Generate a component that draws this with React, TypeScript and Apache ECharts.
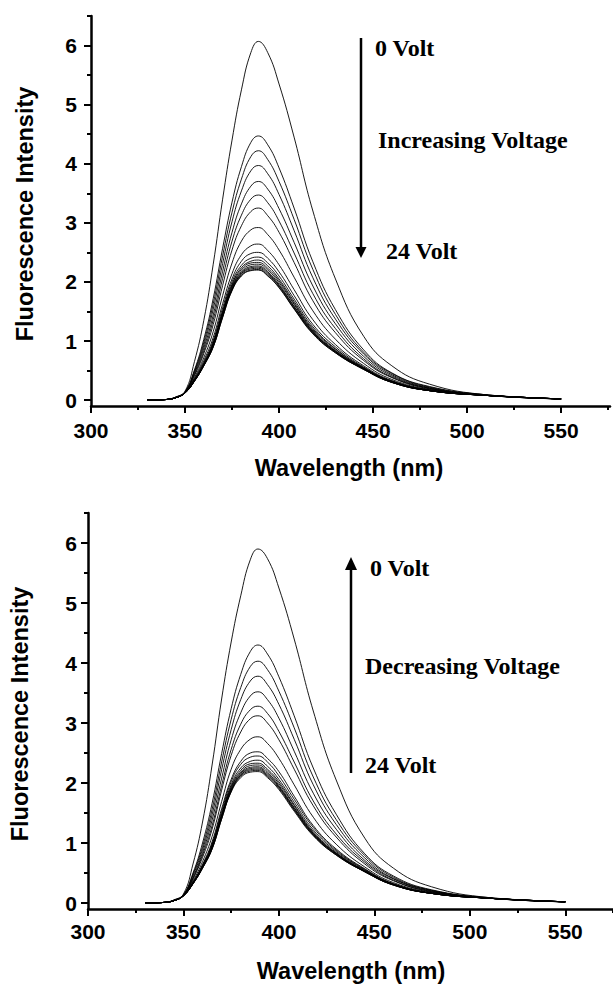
import React, { useEffect, useRef } from "react";
import * as echarts from "echarts";

// Wavelength grid (nm) shared by every spectrum
const wavelengths = [330, 340, 345, 350, 355, 360, 365, 370, 375, 380, 385, 389, 394, 400, 408, 418, 430, 445, 460, 480, 510, 550];

// Top panel: increasing voltage (0 V -> 24 V)
const top00 = [0, 0.01, 0.05, 0.15, 0.65, 1.35, 2.30, 3.40, 4.40, 5.25, 5.88, 6.07, 5.88, 5.35, 4.45, 3.20, 2.05, 1.08, 0.58, 0.27, 0.09, 0.02];
const top01 = [0, 0.01, 0.05, 0.14, 0.51, 1.03, 1.72, 2.57, 3.35, 3.95, 4.36, 4.47, 4.32, 3.93, 3.25, 2.34, 1.53, 0.85, 0.46, 0.23, 0.09, 0.02];
const top02 = [0, 0.01, 0.05, 0.14, 0.49, 0.98, 1.63, 2.44, 3.18, 3.74, 4.12, 4.22, 4.07, 3.70, 3.06, 2.21, 1.45, 0.81, 0.45, 0.22, 0.09, 0.02];
const top03 = [0, 0.01, 0.04, 0.13, 0.47, 0.93, 1.54, 2.31, 3.02, 3.54, 3.88, 3.97, 3.83, 3.48, 2.87, 2.07, 1.37, 0.78, 0.43, 0.21, 0.08, 0.02];
const top04 = [0, 0.01, 0.04, 0.13, 0.45, 0.88, 1.44, 2.18, 2.84, 3.32, 3.62, 3.70, 3.57, 3.24, 2.67, 1.93, 1.29, 0.74, 0.41, 0.20, 0.08, 0.02];
const top05 = [0, 0.01, 0.04, 0.13, 0.43, 0.83, 1.36, 2.06, 2.69, 3.13, 3.40, 3.47, 3.34, 3.03, 2.49, 1.80, 1.21, 0.70, 0.39, 0.20, 0.08, 0.02];
const top06 = [0, 0.01, 0.04, 0.13, 0.41, 0.79, 1.28, 1.94, 2.54, 2.95, 3.19, 3.25, 3.12, 2.84, 2.33, 1.68, 1.14, 0.67, 0.38, 0.19, 0.08, 0.02];
const top07 = [0, 0.01, 0.04, 0.13, 0.38, 0.72, 1.16, 1.77, 2.32, 2.69, 2.88, 2.92, 2.80, 2.54, 2.08, 1.51, 1.03, 0.62, 0.35, 0.18, 0.08, 0.02];
const top08 = [0, 0.01, 0.04, 0.12, 0.36, 0.67, 1.06, 1.63, 2.14, 2.46, 2.61, 2.64, 2.53, 2.29, 1.87, 1.36, 0.94, 0.58, 0.33, 0.17, 0.08, 0.02];
const top09 = [0, 0.01, 0.04, 0.12, 0.35, 0.64, 1.01, 1.56, 2.05, 2.35, 2.48, 2.50, 2.40, 2.17, 1.77, 1.28, 0.90, 0.56, 0.32, 0.17, 0.08, 0.02];
const top10 = [0, 0.01, 0.04, 0.12, 0.34, 0.62, 0.98, 1.51, 2.00, 2.28, 2.40, 2.42, 2.32, 2.10, 1.71, 1.24, 0.87, 0.55, 0.32, 0.17, 0.08, 0.02];
const top11 = [0, 0.01, 0.04, 0.12, 0.33, 0.61, 0.96, 1.49, 1.96, 2.24, 2.35, 2.37, 2.27, 2.05, 1.67, 1.21, 0.86, 0.54, 0.31, 0.16, 0.08, 0.02];
const top12 = [0, 0.01, 0.04, 0.12, 0.33, 0.61, 0.95, 1.47, 1.94, 2.21, 2.32, 2.33, 2.23, 2.02, 1.64, 1.19, 0.84, 0.54, 0.31, 0.16, 0.08, 0.02];
const top13 = [0, 0.01, 0.04, 0.12, 0.33, 0.60, 0.94, 1.45, 1.92, 2.18, 2.29, 2.30, 2.20, 1.99, 1.62, 1.17, 0.83, 0.53, 0.31, 0.16, 0.08, 0.02];
const top14 = [0, 0.01, 0.04, 0.12, 0.33, 0.59, 0.93, 1.44, 1.90, 2.16, 2.26, 2.27, 2.17, 1.96, 1.59, 1.16, 0.82, 0.53, 0.31, 0.16, 0.08, 0.02];
const top15 = [0, 0.01, 0.04, 0.12, 0.32, 0.59, 0.92, 1.43, 1.88, 2.14, 2.24, 2.25, 2.15, 1.94, 1.58, 1.15, 0.82, 0.53, 0.30, 0.16, 0.08, 0.02];
const top16 = [0, 0.01, 0.04, 0.12, 0.32, 0.59, 0.91, 1.42, 1.87, 2.13, 2.22, 2.23, 2.13, 1.93, 1.56, 1.14, 0.81, 0.52, 0.30, 0.16, 0.08, 0.02];
const top17 = [0, 0.01, 0.04, 0.12, 0.32, 0.58, 0.90, 1.40, 1.86, 2.11, 2.20, 2.21, 2.11, 1.91, 1.55, 1.13, 0.80, 0.52, 0.30, 0.16, 0.08, 0.02];
const top18 = [0, 0.01, 0.04, 0.12, 0.32, 0.58, 0.90, 1.40, 1.85, 2.10, 2.19, 2.20, 2.10, 1.90, 1.54, 1.12, 0.80, 0.52, 0.30, 0.16, 0.08, 0.02];

// Bottom panel: decreasing voltage (24 V -> 0 V)
const bot00 = [0, 0.01, 0.05, 0.15, 0.65, 1.35, 2.30, 3.40, 4.35, 5.12, 5.72, 5.90, 5.74, 5.25, 4.40, 3.20, 2.05, 1.08, 0.58, 0.27, 0.09, 0.02];
const bot01 = [0, 0.01, 0.05, 0.14, 0.50, 1.00, 1.66, 2.49, 3.24, 3.81, 4.19, 4.30, 4.15, 3.77, 3.12, 2.25, 1.48, 0.82, 0.45, 0.22, 0.09, 0.02];
const bot02 = [0, 0.01, 0.04, 0.13, 0.48, 0.94, 1.56, 2.35, 3.06, 3.59, 3.94, 4.03, 3.89, 3.53, 2.92, 2.10, 1.39, 0.79, 0.43, 0.21, 0.08, 0.02];
const bot03 = [0, 0.01, 0.04, 0.13, 0.46, 0.89, 1.47, 2.22, 2.89, 3.39, 3.70, 3.78, 3.64, 3.31, 2.73, 1.97, 1.31, 0.75, 0.41, 0.21, 0.08, 0.02];
const bot04 = [0, 0.01, 0.04, 0.13, 0.43, 0.84, 1.38, 2.08, 2.72, 3.17, 3.45, 3.52, 3.39, 3.08, 2.53, 1.83, 1.23, 0.71, 0.40, 0.20, 0.08, 0.02];
const bot05 = [0, 0.01, 0.04, 0.13, 0.41, 0.80, 1.29, 1.96, 2.56, 2.98, 3.22, 3.28, 3.16, 2.86, 2.35, 1.70, 1.15, 0.68, 0.38, 0.19, 0.08, 0.02];
const bot06 = [0, 0.01, 0.04, 0.13, 0.40, 0.76, 1.23, 1.88, 2.46, 2.85, 3.07, 3.12, 3.00, 2.72, 2.23, 1.62, 1.10, 0.65, 0.37, 0.19, 0.08, 0.02];
const bot07 = [0, 0.01, 0.04, 0.12, 0.37, 0.69, 1.11, 1.69, 2.23, 2.56, 2.73, 2.77, 2.66, 2.41, 1.97, 1.43, 0.98, 0.60, 0.34, 0.18, 0.08, 0.02];
const bot08 = [0, 0.01, 0.04, 0.12, 0.35, 0.64, 1.02, 1.57, 2.06, 2.36, 2.50, 2.52, 2.41, 2.19, 1.78, 1.29, 0.90, 0.57, 0.32, 0.17, 0.08, 0.02];
const bot09 = [0, 0.01, 0.04, 0.12, 0.34, 0.63, 0.99, 1.53, 2.02, 2.31, 2.43, 2.45, 2.35, 2.12, 1.73, 1.26, 0.88, 0.56, 0.32, 0.17, 0.08, 0.02];
const bot10 = [0, 0.01, 0.04, 0.12, 0.34, 0.62, 0.97, 1.49, 1.97, 2.25, 2.36, 2.38, 2.28, 2.06, 1.68, 1.22, 0.86, 0.55, 0.31, 0.16, 0.08, 0.02];
const bot11 = [0, 0.01, 0.04, 0.12, 0.33, 0.61, 0.95, 1.47, 1.94, 2.21, 2.32, 2.33, 2.23, 2.02, 1.64, 1.19, 0.84, 0.54, 0.31, 0.16, 0.08, 0.02];
const bot12 = [0, 0.01, 0.04, 0.12, 0.33, 0.60, 0.94, 1.45, 1.92, 2.18, 2.29, 2.30, 2.20, 1.99, 1.62, 1.17, 0.83, 0.53, 0.31, 0.16, 0.08, 0.02];
const bot13 = [0, 0.01, 0.04, 0.12, 0.33, 0.59, 0.93, 1.44, 1.90, 2.16, 2.26, 2.27, 2.17, 1.96, 1.59, 1.16, 0.82, 0.53, 0.31, 0.16, 0.08, 0.02];
const bot14 = [0, 0.01, 0.04, 0.12, 0.32, 0.59, 0.92, 1.43, 1.88, 2.14, 2.24, 2.25, 2.15, 1.94, 1.58, 1.15, 0.82, 0.53, 0.30, 0.16, 0.08, 0.02];
const bot15 = [0, 0.01, 0.04, 0.12, 0.32, 0.59, 0.91, 1.42, 1.87, 2.13, 2.22, 2.23, 2.13, 1.93, 1.56, 1.14, 0.81, 0.52, 0.30, 0.16, 0.08, 0.02];
const bot16 = [0, 0.01, 0.04, 0.12, 0.32, 0.58, 0.90, 1.40, 1.86, 2.11, 2.20, 2.21, 2.11, 1.91, 1.55, 1.13, 0.80, 0.52, 0.30, 0.16, 0.08, 0.02];
const bot17 = [0, 0.01, 0.04, 0.12, 0.32, 0.58, 0.90, 1.40, 1.85, 2.09, 2.18, 2.19, 2.09, 1.89, 1.53, 1.12, 0.80, 0.52, 0.30, 0.16, 0.08, 0.02];

const topSpectra = [top00, top01, top02, top03, top04, top05, top06, top07, top08, top09, top10, top11, top12, top13, top14, top15, top16, top17, top18];
const bottomSpectra = [bot00, bot01, bot02, bot03, bot04, bot05, bot06, bot07, bot08, bot09, bot10, bot11, bot12, bot13, bot14, bot15, bot16, bot17];

// Tick values
const xMajorTicks = [300, 350, 400, 450, 500, 550];
const xMinorTicks = [325, 375, 425, 475, 525, 575];
const yMajorTicks = [0, 1, 2, 3, 4, 5, 6];
const yMinorTicks = [0.5, 1.5, 2.5, 3.5, 4.5, 5.5, 6.5];

const xTitle = "Wavelength (nm)";
const yTitle = "Fluorescence Intensity";

const SANS = "'Liberation Sans', Arial, sans-serif";
const SERIF = "'Liberation Serif', 'Times New Roman', serif";
const TICK_FONT = 21;

// plot-area frames (pixels) of the two panels
const panels = [
  { left: 91, top: 16, width: 519, height: 390, xMax: 576, xMargin: 14, yMargin: 14 },
  { left: 88, top: 513, width: 525, height: 396, xMax: 575, xMargin: 12, yMargin: 11 },
];

function buildOption() {
  const grid: any[] = [];
  const xAxis: any[] = [];
  const yAxis: any[] = [];
  panels.forEach((p, gi) => {
    grid.push({ left: p.left, top: p.top, width: p.width, height: p.height, containLabel: false });
    const common = { type: "value", gridIndex: gi, min: 300, max: p.xMax, position: "bottom", splitLine: { show: false } };
    xAxis.push({
      ...common,
      axisLine: { show: true, onZero: false, lineStyle: { color: "#000", width: 2.5 } },
      axisTick: { show: true, customValues: xMajorTicks, length: 7, lineStyle: { color: "#000", width: 2 } },
      axisLabel: { show: false },
    });
    xAxis.push({
      ...common,
      axisLine: { show: false, onZero: false },
      axisTick: { show: true, customValues: xMinorTicks, length: 4, lineStyle: { color: "#000", width: 2 } },
      axisLabel: { show: false },
    });
    const yc = { type: "value", gridIndex: gi, min: -0.1, max: 6.5, position: "left", splitLine: { show: false } };
    yAxis.push({
      ...yc,
      axisLine: { show: true, onZero: false, lineStyle: { color: "#000", width: 2.5 } },
      axisTick: { show: true, customValues: yMajorTicks, length: 7, lineStyle: { color: "#000", width: 2 } },
      axisLabel: {
        show: true,
        customValues: yMajorTicks,
        margin: p.yMargin,
        color: "#000",
        fontSize: TICK_FONT,
        fontWeight: "bold",
        fontFamily: SANS,
      },
    });
    yAxis.push({
      ...yc,
      axisLine: { show: false, onZero: false },
      axisTick: { show: true, customValues: yMinorTicks, length: 4, lineStyle: { color: "#000", width: 2 } },
      axisLabel: { show: false },
    });
  });

  const series: any[] = [];
  [topSpectra, bottomSpectra].forEach((spectra, pi) => {
    spectra.forEach((vals, k) => {
      series.push({
        type: "line",
        name: `p${pi}-${k}`,
        xAxisIndex: pi * 2,
        yAxisIndex: pi * 2,
        data: wavelengths.map((w, i) => [w, vals[i]]),
        symbol: "none",
        showSymbol: false,
        smooth: 0.45,
        silent: true,
        lineStyle: { color: "#000", width: 0.9 },
      });
    });
  });

  return { grid, xAxis, yAxis, series };
}

function label(text: string, x: number, y: number, opts: any = {}) {
  return {
    type: "text",
    x,
    y,
    rotation: opts.rotation || 0,
    style: {
      text,
      fill: "#000",
      fontSize: opts.fontSize || 23.5,
      fontWeight: "bold",
      fontFamily: opts.fontFamily || SANS,
      align: opts.align || "center",
      verticalAlign: opts.verticalAlign || "middle",
    },
  };
}

const staticGraphics = [
  label(yTitle, 25, 214, { rotation: Math.PI / 2 }),
  label(xTitle, 349, 468),
  label(yTitle, 20, 714, { rotation: Math.PI / 2 }),
  label(xTitle, 351, 971),
  // top annotation
  { type: "line", shape: { x1: 361, y1: 38, x2: 361, y2: 250 }, style: { stroke: "#000", lineWidth: 2.5 } },
  { type: "polygon", shape: { points: [[355.5, 247], [366.5, 247], [361, 258]] }, style: { fill: "#000" } },
  label("0 Volt", 375, 48, { fontFamily: SERIF, fontSize: 24, align: "left" }),
  label("Increasing Voltage", 378, 140, { fontFamily: SERIF, fontSize: 24, align: "left" }),
  label("24 Volt", 386, 251, { fontFamily: SERIF, fontSize: 24, align: "left" }),
  // bottom annotation
  { type: "line", shape: { x1: 351, y1: 566, x2: 351, y2: 773 }, style: { stroke: "#000", lineWidth: 2.5 } },
  { type: "polygon", shape: { points: [[345, 570], [357, 570], [351, 557]] }, style: { fill: "#000" } },
  label("0 Volt", 370, 568, { fontFamily: SERIF, fontSize: 24, align: "left" }),
  label("Decreasing Voltage", 365, 666, { fontFamily: SERIF, fontSize: 24, align: "left" }),
  label("24 Volt", 365, 765, { fontFamily: SERIF, fontSize: 24, align: "left" }),
];

export default function App() {
  const ref = useRef<HTMLDivElement>(null);
  useEffect(() => {
    if (!ref.current) return;
    const chart = echarts.init(ref.current, null, { renderer: "svg" });
    chart.setOption({ animation: false, backgroundColor: "#fff", ...buildOption(), graphic: staticGraphics } as any);
    // x tick labels, placed through each panel's x scale so they stay centred on their ticks
    const tickLabels: any[] = [];
    panels.forEach((p, pi) => {
      xMajorTicks.forEach((v) => {
        const px = chart.convertToPixel({ xAxisIndex: pi * 2 } as any, v) as unknown as number;
        tickLabels.push(
          label(String(v), px, p.top + p.height + p.xMargin, { fontSize: TICK_FONT, verticalAlign: "top" })
        );
      });
    });
    chart.setOption({ graphic: [...staticGraphics, ...tickLabels] } as any);
    return () => chart.dispose();
  }, []);
  return <div ref={ref} style={{ position: "absolute", left: 0, top: 0, width: 613, height: 985 }} />;
}
